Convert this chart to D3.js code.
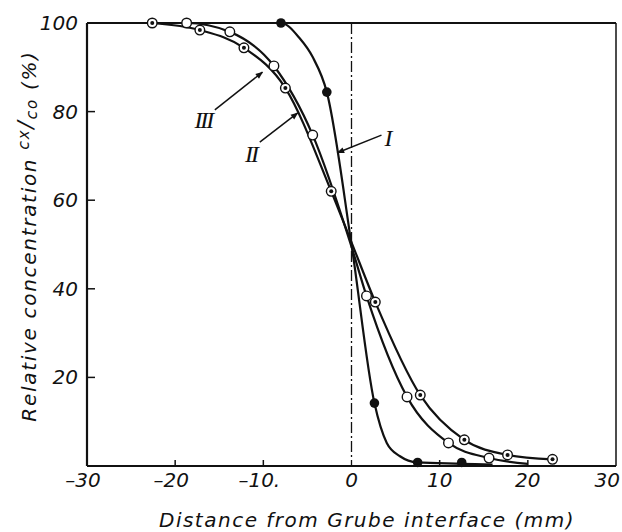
<!DOCTYPE html>
<html>
<head>
<meta charset="utf-8">
<script src="https://cdn.jsdelivr.net/npm/d3@7"></script>
<style>
  body { margin: 0; background: #fff; }
  text { font-family: "DejaVu Sans", sans-serif; font-style: italic; fill: #111; }
  text.roman { font-family: "Liberation Serif", "DejaVu Serif", serif; }
</style>
</head>
<body>
<script>
const distI = [-8, -2.8, 2.6, 7.5, 12.5];
const concI = [100, 84.4, 14.2, 0.8, 0.8];
const distII = [-22.6, -17.2, -12.2, -7.5, -2.3, 2.7, 7.8, 12.8, 17.7, 22.8];
const concII = [100, 98.4, 94.4, 85.3, 62, 37, 16, 5.9, 2.5, 1.5];
const distIII = [-18.7, -13.8, -8.8, -4.4, 1.7, 6.3, 11, 15.6];
const concIII = [100, 98, 90.3, 74.7, 38.4, 15.6, 5.2, 1.8];

// drawn curves (extra points estimated from the lines)
const curveI = [[-16, 100], [-8, 100], [-5.9, 96.6], [-4.4, 92.3], [-2.8, 84.4], [0, 50], [2.6, 14.2], [4, 5.2], [5.5, 2.2], [7.5, 0.8], [12.5, 0.5], [16, 0.3]];
const curveII = [[-22.6, 100], [-17.2, 98.4], [-12.2, 94.4], [-7.5, 85.3], [-2.3, 62], [0, 50.5], [2.7, 37], [7.8, 16], [12.8, 5.9], [17.7, 2.5], [22.8, 1.5]];
const curveIII = [[-22.6, 100], [-18.7, 100], [-13.8, 98], [-8.8, 90.3], [-4.4, 74.7], [0, 49.5], [1.7, 38.4], [6.3, 15.6], [11, 5.2], [15.6, 1.8], [20, 0.5]];

const xTicks = [-30, -20, -10, 0, 10, 20, 30];
const xTickLabels = ["\u201330", "\u201320", "\u201310.", "0", "10", "20", "30"];
const yTicks = [20, 40, 60, 80, 100];

var width = 622, height = 532;
var svg = d3.select("body").append("svg")
    .attr("width", width)
    .attr("height", height);

var x = d3.scaleLinear().domain([-30, 30]).range([87, 616]);
var y = d3.scaleLinear().domain([0, 100]).range([466, 23]);

// arrow head for the leader lines
svg.append("defs").append("marker")
    .attr("id", "arr")
    .attr("viewBox", "0 0 10 10")
    .attr("refX", 9).attr("refY", 5)
    .attr("markerWidth", 7).attr("markerHeight", 5)
    .attr("orient", "auto-start-reverse")
    .append("path").attr("d", "M0,1 L10,5 L0,9 Z").attr("fill", "#111");

// frame
svg.append("line").attr("x1", x(-30)).attr("x2", x(30)).attr("y1", y(100)).attr("y2", y(100))
    .attr("stroke", "#111").attr("stroke-width", 2);
svg.append("line").attr("x1", x(30)).attr("x2", x(30)).attr("y1", y(100)).attr("y2", y(0))
    .attr("stroke", "#111").attr("stroke-width", 1.5);
svg.append("line").attr("x1", x(-30)).attr("x2", x(-30)).attr("y1", y(100)).attr("y2", y(0))
    .attr("stroke", "#111").attr("stroke-width", 2.2);
svg.append("line").attr("x1", x(-30)).attr("x2", x(30)).attr("y1", y(0)).attr("y2", y(0))
    .attr("stroke", "#111").attr("stroke-width", 2.2);

// inward ticks
svg.selectAll(".ytick").data(yTicks.filter(d => d < 100)).enter().append("line")
    .attr("x1", x(-30)).attr("x2", x(-30) + 8)
    .attr("y1", d => y(d)).attr("y2", d => y(d))
    .attr("stroke", "#111").attr("stroke-width", 1.5);
svg.selectAll(".xtick").data(xTicks.filter(d => d != 0 && Math.abs(d) < 30)).enter().append("line")
    .attr("x1", d => x(d)).attr("x2", d => x(d))
    .attr("y1", y(0)).attr("y2", y(0) - 6)
    .attr("stroke", "#111").attr("stroke-width", 1.5);

// tick labels
svg.selectAll(".ylab").data(yTicks).enter().append("text")
    .attr("x", 78).attr("y", d => y(d) + 7)
    .attr("text-anchor", "end")
    .attr("font-size", 20)
    .text(d => d);
svg.selectAll(".xlab").data(xTicks).enter().append("text")
    .attr("x", (d, i) => d == 30 ? 620 : x(d) - (xTickLabels[i].startsWith("\u2013") ? 4 : 0))
    .attr("y", 487)
    .attr("text-anchor", d => d == 30 ? "end" : "middle")
    .attr("font-size", 20)
    .text((d, i) => xTickLabels[i]);

// axis titles
svg.append("text")
    .attr("x", 367).attr("y", 527)
    .attr("text-anchor", "middle")
    .attr("font-size", 20)
    .attr("letter-spacing", 1.5)
    .text("Distance from Grube interface (mm)");

var yt = svg.append("text")
    .attr("transform", "translate(36,236) rotate(-90)")
    .attr("text-anchor", "middle")
    .attr("font-size", 20)
    .attr("letter-spacing", 1.7);
yt.append("tspan").text("Relative concentration ");
yt.append("tspan").attr("dy", -7).attr("font-size", 16).text("c");
yt.append("tspan").attr("font-size", 15).text("x");
yt.append("tspan").attr("dy", 4).attr("font-size", 22).text("/");
yt.append("tspan").attr("dy", 4).attr("font-size", 16).text("c");
yt.append("tspan").attr("font-size", 15).text("o");
yt.append("tspan").attr("dy", -1).text(" (%)");

// interface line at zero
svg.append("line")
    .attr("x1", x(0)).attr("x2", x(0)).attr("y1", y(100)).attr("y2", y(0))
    .attr("stroke", "#111").attr("stroke-width", 1.3)
    .attr("stroke-dasharray", "11,3,2,3");

// curves
var line = d3.line().x(d => x(d[0])).y(d => y(d[1])).curve(d3.curveMonotoneX);
[curveI, curveII, curveIII].forEach(function(c) {
    svg.append("path").attr("d", line(c))
        .attr("fill", "none").attr("stroke", "#111").attr("stroke-width", 2.2);
});

// markers
svg.selectAll(".pI").data(distI).enter().append("circle")
    .attr("cx", d => x(d)).attr("cy", (d, i) => y(concI[i]))
    .attr("r", 4.8).attr("fill", "#111");
svg.selectAll(".pIII").data(distIII).enter().append("circle")
    .attr("cx", d => x(d)).attr("cy", (d, i) => y(concIII[i]))
    .attr("r", 4.8).attr("fill", "#fff").attr("stroke", "#111").attr("stroke-width", 1.4);
svg.selectAll(".pII").data(distII).enter().append("circle")
    .attr("cx", d => x(d)).attr("cy", (d, i) => y(concII[i]))
    .attr("r", 4.8).attr("fill", "#fff").attr("stroke", "#111").attr("stroke-width", 1.4);
svg.selectAll(".pIIdot").data(distII).enter().append("circle")
    .attr("cx", d => x(d)).attr("cy", (d, i) => y(concII[i]))
    .attr("r", 2).attr("fill", "#111");

// curve labels with leaders
var notes = [
    {name: "I", tip: [-1.6, 70.7], tail: [3.4, 74.7], pos: [4.2, 72.3]},
    {name: "II", tip: [-6.1, 79.7], tail: [-10.4, 73.1], pos: [-11.4, 68.6]},
    {name: "III", tip: [-10.1, 88.9], tail: [-15.5, 80.4], pos: [-16.8, 76.3]}
];
notes.forEach(function(n) {
    svg.append("line")
        .attr("x1", x(n.tail[0])).attr("y1", y(n.tail[1]))
        .attr("x2", x(n.tip[0])).attr("y2", y(n.tip[1]))
        .attr("stroke", "#111").attr("stroke-width", 1.5)
        .attr("marker-end", "url(#arr)");
    svg.append("text")
        .attr("class", "roman")
        .attr("x", x(n.pos[0])).attr("y", y(n.pos[1]))
        .attr("text-anchor", "middle")
        .attr("font-size", 24)
        .attr("letter-spacing", n.name.length > 1 ? -2 : 0)
        .text(n.name);
});
</script>
</body>
</html>
